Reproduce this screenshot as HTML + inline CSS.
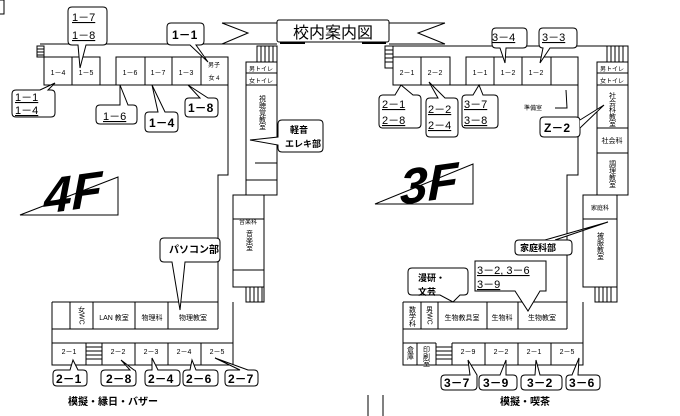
<!DOCTYPE html>
<html><head><meta charset="utf-8"><style>
html,body{margin:0;padding:0;background:#fff;width:680px;height:416px;overflow:hidden}
svg{display:block}
text{font-family:"Liberation Sans","Noto Sans CJK JP",sans-serif;fill:#000}
.r{font-size:7px}
.b{font-size:12px;font-weight:bold}
.u{font-size:11px}
.v{font-size:7px;writing-mode:tb}
</style></head><body>
<svg width="680" height="416" viewBox="0 0 680 416" xmlns="http://www.w3.org/2000/svg">
<g fill="none" stroke="#000" stroke-width="1">
<rect x="-1" y="0" width="5" height="14"/>
<path d="M222,23 L277,23 M222,44 L277,44 M222,23 L248,33 L222,44"/>
<path d="M389,23 L445,23 M389,44 L445,44 M445,23 L418,33 L445,44"/>
<rect x="277" y="20" width="112" height="22" rx="2" fill="#fff"/>
<path d="M280,43 L305,43 M362,43 L386,43" stroke-width="2"/>

<path d="M40,44 L277,44"/>
<path d="M44,57 L44,85 L228,85 L228,175 L218,175 L218,302"/>
<path d="M44,57 L100,57 L100,85 M72,57 L72,85 M116,85 L116,57 L228,57 L228,85 M145,57 L145,85 M172,57 L172,85 M201,57 L201,85"/>
<rect x="37" y="46" width="7" height="11"/>
<path d="M37,49 H44 M37,52 H44 M37,55 H44"/>
<rect x="246" y="62" width="31" height="133"/>
<path d="M246,73 H277 M246,85 H277 M255,163 H277 V180 M246,180 H277"/>
<rect x="257" y="46" width="20" height="16"/>
<path d="M261,46 V62 M265,46 V62 M269,46 V62 M273,46 V62"/>
<rect x="233" y="195" width="31" height="92"/>
<path d="M233,219 H264 M233,270 H264"/>
<rect x="246" y="287" width="18" height="15"/>
<path d="M250,287 V302 M254,287 V302 M258,287 V302 M262,287 V302"/>
<path d="M52,302 H218 M233,302 V365 H52 V302 M52,329 H218 M70,302 V329 M93,302 V329 M135,302 V329 M168,302 V329 M218,302 V329"/>
<path d="M52,343 H86 V365 M102,343 H233 M102,343 V365 M135,343 V365 M168,343 V365 M201,343 V365"/>
<path d="M86,347 H102 M86,351 H102 M86,355 H102 M86,359 H102 M86,343 H102"/>

<path d="M393,46 L628,46"/>
<rect x="385" y="46" width="8" height="22"/>
<path d="M385,50 H393 M385,54 H393 M385,58 H393 M385,62 H393"/>
<path d="M393,57 L393,85 L578,85 L578,175 L567,175 L567,302"/>
<path d="M393,57 H450 V85 M421,57 V85 M466,85 V57 H578 V85 M494,57 V85 M522,57 V85 M551,57 V85"/>
<rect x="597" y="62" width="31" height="133"/>
<path d="M597,73 H628 M597,85 H628 M597,128 H628 M597,153 H628"/>
<rect x="607" y="46" width="21" height="16"/>
<path d="M611,46 V62 M615,46 V62 M619,46 V62 M623,46 V62"/>
<rect x="583" y="195" width="34" height="92"/>
<path d="M583,219 H617"/>
<rect x="595" y="287" width="22" height="15"/>
<path d="M599,287 V302 M603,287 V302 M607,287 V302 M611,287 V302"/>
<path d="M403,302 H567 M583,302 V365 H403 V302 M403,329 H567 M421,302 V329 M438,302 V329 M487,302 V329 M518,302 V329 M567,302 V329"/>
<path d="M403,343 H436 M417,343 V365 M436,343 V365 M452,343 H583 M452,343 V365 M485,343 V365 M518,343 V365 M551,343 V365"/>
<path d="M436,347 H452 M436,351 H452 M436,355 H452 M436,359 H452"/>

<path d="M20,215 L118,177 L118,215 Z"/>
<path d="M375,204 L473,164 L473,204 Z"/>

<g stroke-width="1" fill="#fff">
<path d="M72,7 H103 Q107,7 107,11 V41 Q107,45 103,45 H86 L80,68 L78,45 H72 Q68,45 68,41 V11 Q68,7 72,7 Z"/>
<path d="M171,23 H200 Q204,23 204,27 V41 Q204,45 200,45 H196 L208,62 L190,45 H171 Q167,45 167,41 V27 Q167,23 171,23 Z"/>
<path d="M16,90 H40 L55,83 L48,90 H51 Q55,90 55,94 V113 Q55,117 51,117 H16 Q12,117 12,113 V94 Q12,90 16,90 Z"/>
<path d="M100,105 H120 L120,85 L128,105 H133 Q137,105 137,109 V120 Q137,124 133,124 H100 Q96,124 96,120 V109 Q96,105 100,105 Z"/>
<path d="M149,112 H158 L152,85 L165,112 H174 Q178,112 178,116 V128 Q178,132 174,132 H149 Q145,132 145,128 V116 Q145,112 149,112 Z"/>
<path d="M189,98 H200 L188,85 L208,98 H214 Q218,98 218,102 V113 Q218,117 214,117 H189 Q185,117 185,113 V102 Q185,98 189,98 Z"/>
<path d="M282,120 H319 Q323,120 323,124 V148 Q323,152 319,152 H282 Q278,152 278,148 V145 L250,140 L278,137 V124 Q278,120 282,120 Z"/>
<path d="M164,238 H216 Q220,238 220,242 V258 Q220,262 216,262 H185 L180,310 L172,262 H164 Q160,262 160,258 V242 Q160,238 164,238 Z"/>
<path d="M57,370 H70 L73,360 L78,370 H83 Q87,370 87,374 V382 Q87,386 83,386 H57 Q53,386 53,382 V374 Q53,370 57,370 Z"/>
<path d="M105,370 H130 L121,360 L134,370 Q136,370 136,374 V382 Q136,386 132,386 H105 Q101,386 101,382 V374 Q101,370 105,370 Z"/>
<path d="M149,370 H152 L152,358 L158,370 H176 Q180,370 180,374 V382 Q180,386 176,386 H149 Q145,386 145,382 V374 Q145,370 149,370 Z"/>
<path d="M187,370 H190 L192,360 L196,370 H214 Q218,370 218,374 V382 Q218,386 214,386 H187 Q183,386 183,382 V374 Q183,370 187,370 Z"/>
<path d="M229,370 H240 L215,358 L248,370 H254 Q258,370 258,374 V382 Q258,386 254,386 H229 Q225,386 225,382 V374 Q225,370 229,370 Z"/>
<path d="M496,28 H523 Q527,28 527,32 V44 Q527,48 523,48 H506 L505,63 L500,48 H496 Q492,48 492,44 V32 Q492,28 496,28 Z"/>
<path d="M543,28 H573 Q577,28 577,32 V44 Q577,48 573,48 H550 L540,63 L543,48 Q539,48 539,44 V32 Q539,28 543,28 Z"/>
<path d="M383,95 H395 L401,85 L413,95 H417 Q421,95 421,99 V124 Q421,128 417,128 H383 Q379,128 379,124 V99 Q379,95 383,95 Z"/>
<path d="M430,98 H438 L429,82 L445,98 H454 Q458,98 458,102 V133 Q458,137 454,137 H430 Q426,137 426,133 V102 Q426,98 430,98 Z"/>
<path d="M466,95 H473 L479,85 L483,95 H494 Q498,95 498,99 V124 Q498,128 494,128 H466 Q462,128 462,124 V99 Q462,95 466,95 Z"/>
<path d="M544,117 H576 Q580,117 580,121 V133 Q580,137 576,137 H544 Q540,137 540,133 V121 Q540,117 544,117 Z"/>
<path d="M580,120 L604,105 L580,128" />
<path d="M519,240 H568 Q572,240 572,244 V251 Q572,255 568,255 H519 Q515,255 515,251 V244 Q515,240 519,240 Z"/>
<path d="M545,240 L608,222 L555,240"/>
<path d="M475,261 H546 V291 H540 L528,311 L515,291 H475 Z"/>
<path d="M412,268 H464 Q468,268 468,272 V291 Q468,295 464,295 H460 L453,302 L440,295 H412 Q408,295 408,291 V272 Q408,268 412,268 Z"/>
<path d="M445,375 H470 L468,360 L477,375 Q477,375 477,379 V386 Q477,390 473,390 H445 Q441,390 441,386 V379 Q441,375 445,375 Z"/>
<path d="M483,375 H500 L506,360 L506,375 H513 Q517,375 517,379 V386 Q517,390 513,390 H483 Q479,390 479,386 V379 Q479,375 483,375 Z"/>
<path d="M525,375 H535 L536,360 L540,375 H558 Q562,375 562,379 V386 Q562,390 558,390 H525 Q521,390 521,386 V379 Q521,375 525,375 Z"/>
<path d="M570,375 H572 L579,358 L578,375 H596 Q600,375 600,379 V386 Q600,390 596,390 H570 Q566,390 566,386 V379 Q566,375 570,375 Z"/>
</g>
<path d="M368,395 V416 M383,395 V416"/>
<path d="M555,108 L567,108 L566,90"/>
</g>

<text x="333" y="38" text-anchor="middle" font-size="16">校内案内図</text>

<g class="r" text-anchor="middle">
<text x="58" y="75">1－4</text><text x="86" y="75">1－5</text>
<text x="130" y="75">1－6</text><text x="158" y="75">1－7</text><text x="186" y="75">1－3</text>
<text x="214" y="67" font-size="6">男子</text><text x="214" y="80" font-size="6">女 4</text>
<text x="261" y="71" font-size="6">男トイレ</text><text x="261" y="83" font-size="6">女トイレ</text>
<text x="248" y="224" font-size="6">音楽科</text>
<text x="69" y="354">2－1</text><text x="118" y="354">2－2</text><text x="151" y="354">2－3</text><text x="184" y="354">2－4</text><text x="217" y="354">2－5</text>
<text x="114" y="320">LAN 教室</text><text x="152" y="320">物理科</text><text x="193" y="320">物理教室</text>
<text x="407" y="75">2－1</text><text x="435" y="75">2－2</text>
<text x="480" y="75">1－1</text><text x="508" y="75">1－2</text><text x="536" y="75">1－2</text>
<text x="612" y="71" font-size="6">男トイレ</text><text x="612" y="83" font-size="6">女トイレ</text>
<text x="612" y="143">社会科</text>
<text x="600" y="210" font-size="6">家庭科</text>
<text x="468" y="354">2－9</text><text x="501" y="354">2－2</text><text x="534" y="354">2－1</text><text x="567" y="354">2－5</text>
<text x="462" y="320">生物教具室</text><text x="502" y="320">生物科</text><text x="542" y="320">生物教室</text>
<text x="533" y="110" font-size="6">準備室</text>
</g>
<g class="v" font-size="7">
<text x="262" y="95">視聴覚教室</text>
<text x="249" y="230">音楽室</text>
<text x="81" y="306">女WC</text>
<text x="612" y="92">社会科教室</text>
<text x="612" y="160">調理教室</text>
<text x="600" y="232">被服教室</text>
<text x="412" y="306">数学科</text>
<text x="429" y="306">男WC</text>
<text x="410" y="346">倉庫</text>
<text x="426" y="346">印刷室</text>
</g>

<g class="u">
<text x="72" y="21" text-decoration="underline">1－7</text><text x="72" y="39" text-decoration="underline">1－8</text>
<text x="15" y="101" text-decoration="underline">1－1</text><text x="15" y="114" text-decoration="underline">1－4</text>
<text x="103" y="120" text-decoration="underline">1－6</text>
<text x="492" y="41" text-decoration="underline">3－4</text><text x="542" y="41" text-decoration="underline">3－3</text>
<text x="382" y="108" text-decoration="underline">2－1</text><text x="382" y="124" text-decoration="underline">2－8</text>
<text x="428" y="113" text-decoration="underline">2－2</text><text x="428" y="129" text-decoration="underline">2－4</text>
<text x="464" y="108" text-decoration="underline">3－7</text><text x="464" y="124" text-decoration="underline">3－8</text>
<text x="477" y="274" text-decoration="underline">3－2, 3－6</text><text x="477" y="288" text-decoration="underline">3－9</text>
</g>
<g class="b">
<text x="172" y="39">1－1</text><text x="149" y="127">1－4</text><text x="188" y="112">1－8</text>
<text x="290" y="133" font-size="9">軽音</text><text x="285" y="147" font-size="9">エレキ部</text>
<text x="169" y="253" font-size="10">パソコン部</text>
<text x="56" y="383">2－1</text><text x="106" y="383">2－8</text><text x="148" y="383">2－4</text><text x="186" y="383">2－6</text><text x="228" y="383">2－7</text>
<text x="544" y="132">Z－2</text>
<text x="520" y="251" font-size="9">家庭科部</text>
<text x="418" y="281" font-size="9">漫研・</text><text x="418" y="295" font-size="9">文芸</text>
<text x="444" y="387">3－7</text><text x="483" y="387">3－9</text><text x="527" y="387">3－2</text><text x="569" y="387">3－6</text>
<text x="68" y="405" font-size="10">模擬・縁日・バザー</text>
<text x="500" y="405" font-size="10">模擬・喫茶</text>
</g>
<text x="44" y="212" font-size="50" font-weight="900" font-style="italic" font-family="'DejaVu Sans',sans-serif" transform="skewY(-8) translate(0,8)">4F</text>
<text x="400" y="203" font-size="50" font-weight="900" font-style="italic" font-family="'DejaVu Sans',sans-serif" transform="skewY(-8) translate(0,58)">3F</text>
</svg>
</body></html>
